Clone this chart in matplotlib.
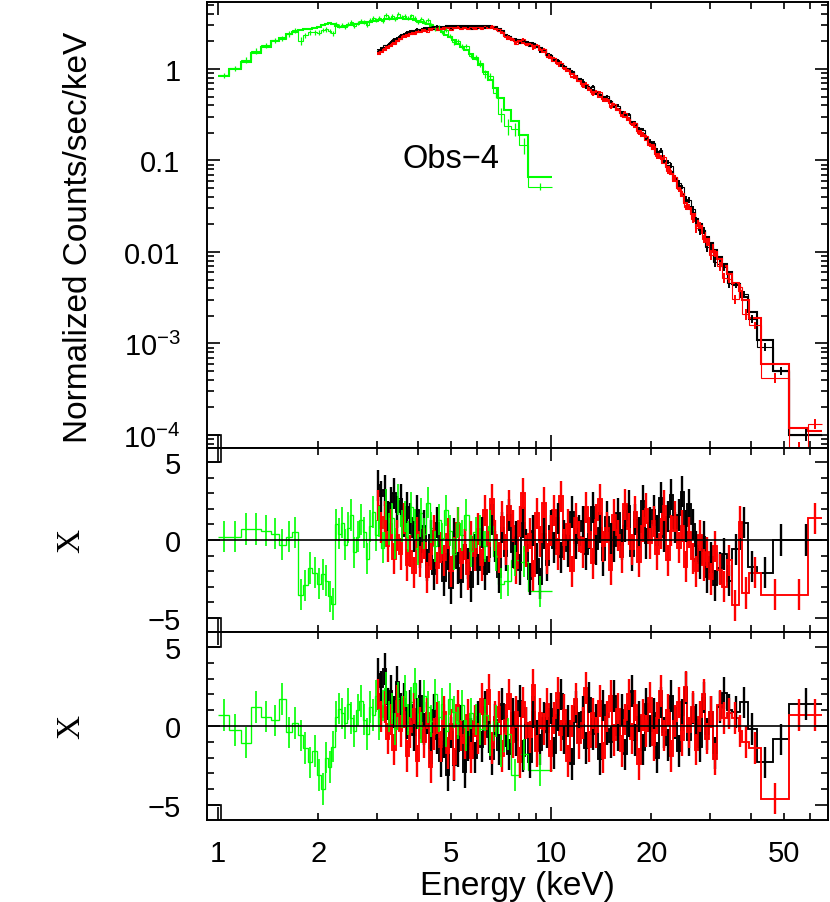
import numpy as np
import matplotlib.pyplot as plt
from matplotlib.ticker import FixedLocator, FixedFormatter, FuncFormatter, LogLocator, MultipleLocator, NullFormatter

plt.rcParams['font.family'] = ['Liberation Sans', 'DejaVu Sans']
plt.rcParams['mathtext.fontset'] = 'custom'
plt.rcParams['mathtext.rm'] = 'Liberation Sans'
plt.rcParams['mathtext.default'] = 'regular'

# ---- NuSTAR (black = FPMA, red = FPMB) : common dense bin edges, keV
fpm_edges = [3.00, 3.06, 3.13, 3.20, 3.27, 3.34, 3.42, 3.50, 3.58, 3.66,
             3.74, 3.83, 3.92, 4.01, 4.10, 4.20, 4.30, 4.40, 4.50, 4.61,
             4.72, 4.83, 4.95, 5.07, 5.19, 5.31, 5.44, 5.57, 5.70, 5.84,
             5.98, 6.12, 6.27, 6.42, 6.57, 6.73, 6.89, 7.06, 7.23, 7.40,
             7.58, 7.76, 7.95, 8.14, 8.34, 8.54, 8.75, 8.96, 9.18, 9.40,
             9.63, 9.86, 10.1, 10.35, 10.6, 10.85, 11.1, 11.4, 11.7, 12.0,
             12.3, 12.6, 12.9, 13.2, 13.5, 13.85, 14.2, 14.55, 14.9, 15.3,
             15.7, 16.1, 16.5, 16.9, 17.3, 17.7, 18.1, 18.6, 19.1, 19.6,
             20.1, 20.6, 21.1, 21.6, 22.1, 22.7, 23.3, 23.9, 24.5, 25.1,
             25.7, 26.3, 27.0, 27.7, 28.4, 29.1, 29.9, 30.7, 31.6, 32.6,
             33.7, 35.0]
black_tail_edges = [37.0, 39.0, 41.5, 46.5, 52.0, 65.0]
red_tail_edges = [36.6, 37.5, 39.4, 42.6, 52.0, 59.0, 65.0]

# model, counts/s/keV
fpm_model = [1.52, 1.60, 1.70, 1.79, 1.88, 2.00, 2.12, 2.24, 2.36, 2.46,
             2.54, 2.60, 2.65, 2.70, 2.75, 2.79, 2.82, 2.85, 2.87, 2.89,
             2.91, 2.92, 2.93, 2.94, 2.95, 2.95, 2.95, 2.95, 2.94, 2.94,
             2.93, 2.93, 2.92, 2.92, 2.91, 2.88, 2.75, 2.58, 2.38, 2.22,
             2.14, 2.09, 2.05, 2.01, 1.97, 1.93, 1.88, 1.80, 1.70, 1.60,
             1.47, 1.38, 1.29, 1.21, 1.13, 1.06, 0.99, 0.91, 0.84, 0.77,
             0.71, 0.66, 0.62, 0.59, 0.56, 0.52, 0.49, 0.47, 0.44, 0.40,
             0.37, 0.34, 0.315, 0.29, 0.265, 0.245, 0.22, 0.195, 0.175, 0.155,
             0.138, 0.123, 0.110, 0.099, 0.088, 0.074, 0.062, 0.052, 0.043, 0.036,
             0.031, 0.027, 0.023, 0.020, 0.017, 0.0145, 0.0125, 0.0105, 0.0088, 0.0074,
             0.0060]
black_tail_model = [0.0045, 0.0032, 0.0022, 0.0011, 5.0e-4, 1.0e-4]
red_tail_model = [0.0046, 0.0037, 0.0030, 0.0019, 6.0e-4, 1.2e-4, 1.1e-4]
fpmb_norm = 0.96

fpm_relerr = [0.02] * 40 + [0.03] * 20 + [0.045] * 20 + [0.065] * 10 + [0.09] * 11
black_tail_relerr = [0.07, 0.08, 0.09, 0.08, 0.10, 0.15]
red_tail_relerr = [0.08, 0.10, 0.09, 0.08, 0.085, 0.12, 0.15]

# residuals (chi), model 1 (middle panel)
black_res1 = [3.5, 2.8, 3.2, 1.5, 2.4, 3.0, 1.8, 2.6, 1.2, 2.1,
              1.4, 0.2, 1.9, -0.8, 0.9, -1.6, 0.3, -2.2, 1.1, -0.5,
              -2.6, -0.9, -3.1, 0.4, -1.8, -2.7, -0.3, -1.5, -3.0, -0.6,
              -1.9, 0.5, -2.2, -1.1, 1.3, -0.4, -2.4, 0.8, -1.0, 1.6,
              -0.8, 0.2, -1.9, 1.1, -0.3, -2.5, 0.6, -1.2, -2.8, 0.4,
              -1.6, 0.9, -0.5, 1.4, -1.1, 0.3, -0.7, 1.8, -0.2, 0.6,
              1.2, -0.9, 0.4, 2.1, -0.6, 0.8, -1.3, 1.5, 0.1, -0.4,
              1.7, -0.3, 0.9, 2.2, -1.0, 1.3, 0.5, 2.5, -0.2, 1.1,
              1.9, 0.6, 2.7, 0.2, 1.5, 2.9, 0.8, 1.6, 3.1, 0.9,
              2.3, 1.0, -0.4, -1.5, 0.2, -2.4, -1.1, -2.9, -1.8, -0.9,
              -2.6]
black_tail_res1 = [-0.6, 1.1, -1.7, -2.1, 0.0, 0.0]
red_res1 = [2.2, 0.8, 1.5, -0.4, 1.0, -1.2, 0.3, -0.9, 1.4, -1.6,
            -0.7, -2.1, 0.5, -1.4, -0.2, -2.4, -0.9, 0.6, -1.8, -0.5,
            -1.3, 0.4, -2.0, -0.8, 1.1, -1.5, -0.3, -2.2, 0.2, -1.0,
            0.7, -1.6, 1.9, -0.4, 2.6, 0.3, -1.1, 1.5, -0.6, 2.2,
            0.9, -1.8, 1.2, 3.0, -0.7, 0.4, -2.3, 1.7, -0.1, 2.4,
            -1.2, 0.6, 1.9, -0.9, 2.8, -0.3, 1.0, -2.0, 1.4, 0.2,
            -0.8, 2.1, 0.5, -1.5, 1.3, 2.6, -0.4, 0.8, -1.9, 1.6,
            0.3, -1.1, 2.3, 0.7, -0.6, 1.8, -1.4, 0.9, 2.0, -0.2,
            1.2, -0.9, 0.4, 2.2, -1.3, 0.6, 1.5, -0.5, 0.9, -1.7,
            0.5, -1.2, -2.0, 0.3, -1.6, -0.8, -2.5, -0.4, -1.9, -3.0,
            -1.3]
red_tail_res1 = [-4.2, 1.15, -3.4, -2.1, -3.5, -3.5, 1.4]

# residuals (chi), model 2 (bottom panel)
black_res2 = [3.3, 2.5, 3.6, 1.4, 2.2, 0.9, 2.8, 1.1, 1.7, 0.2,
              1.3, -0.6, 0.8, 1.9, -0.2, 0.5, -1.4, 1.0, -0.8, -2.2,
              -1.0, -3.1, -0.4, -2.5, -1.6, 0.3, -2.9, -1.2, -0.5, -2.0,
              0.6, -1.3, 1.2, -0.7, -2.1, 0.4, -1.5, 1.4, -0.3, -1.8,
              0.8, -0.9, 1.6, -1.9, 0.2, -2.3, 0.9, -0.6, -1.5, 0.5,
              -0.4, 1.1, -1.7, 0.7, 2.0, -0.8, 0.3, -2.4, 1.2, -0.1,
              0.9, -1.4, 1.8, -0.5, 0.4, -2.1, 1.3, -0.2, -1.0, 1.9,
              -0.6, 1.0, -1.8, 0.3, 2.2, -0.9, 0.6, -1.5, 1.4, -0.3,
              0.8, -2.0, 1.5, -0.4, -1.2, 1.9, 0.2, -1.6, 0.7, 2.4,
              -0.9, 1.1, 0.4, -1.3, 1.8, -0.5, 0.9, -1.7, 1.2, 2.1,
              1.0]
black_tail_res2 = [0.9, 1.5, -0.2, -2.3, -0.85, 1.4]
red_res2 = [2.0, 0.6, 1.2, -0.8, 0.4, -1.5, 1.6, -0.3, 0.9, -1.9,
            -0.4, 1.1, -2.2, 0.2, -1.0, 0.8, -2.6, -0.5, 0.5, -1.3,
            0.9, -1.7, 0.1, -2.4, 1.3, -0.6, -1.1, 0.7, -2.0, 0.3,
            -0.8, 1.7, -0.2, 2.3, -1.4, 0.6, 1.2, -1.9, 0.4, 2.0,
            -1.0, 0.9, -2.3, 1.5, 0.2, -0.7, 2.6, -1.6, 0.8, -0.2,
            1.4, -1.9, 0.5, 2.1, -0.6, 1.0, -2.2, 0.3, 1.7, -1.1,
            0.2, 2.4, -1.3, 0.8, -0.4, 1.6, -2.0, 0.6, 1.9, -0.9,
            1.1, -1.6, 0.4, 2.0, -0.8, 1.3, -2.4, 0.7, -0.3, 1.8,
            -1.2, 0.5, 2.2, -0.6, 1.0, -1.9, 0.3, 1.5, -0.9, 2.5,
            -0.4, 1.2, -1.5, 0.6, 2.0, -0.8, 0.9, -2.1, 1.3, 0.5,
            0.8]
red_tail_res2 = [0.5, -0.3, -1.0, -1.4, -4.6, 0.7, 0.7]

# ---- soft X-ray spectrum (green)
soft_edges = [1.00, 1.08, 1.17, 1.26, 1.35, 1.44, 1.52, 1.60, 1.67, 1.74,
              1.80, 1.86, 1.92, 1.98, 2.04, 2.09, 2.14, 2.19, 2.24, 2.29,
              2.34, 2.39, 2.44, 2.49, 2.54, 2.60, 2.66, 2.72, 2.78, 2.84,
              2.90, 2.96, 3.02, 3.09, 3.16, 3.23, 3.30, 3.37, 3.44, 3.52,
              3.60, 3.68, 3.76, 3.85, 3.94, 4.03, 4.12, 4.22, 4.32, 4.43,
              4.54, 4.66, 4.78, 4.91, 5.04, 5.18, 5.33, 5.49, 5.66, 5.84,
              6.03, 6.24, 6.46, 6.70, 6.95, 7.25, 7.60, 8.00, 8.55, 10.1]
soft_model = [0.84, 1.00, 1.20, 1.50, 1.75, 2.00, 2.20, 2.40, 2.55, 2.68,
              2.72, 2.76, 2.82, 2.90, 3.00, 3.12, 3.18, 3.10, 2.95, 2.88,
              2.90, 2.95, 3.00, 3.05, 3.10, 3.14, 3.18, 3.22, 3.26, 3.30,
              3.34, 3.38, 3.42, 3.46, 3.49, 3.52, 3.54, 3.56, 3.57, 3.57,
              3.56, 3.54, 3.50, 3.44, 3.37, 3.28, 3.18, 3.07, 2.95, 2.82,
              2.68, 2.53, 2.38, 2.22, 2.06, 1.90, 1.74, 1.62, 1.46, 1.30,
              1.10, 0.92, 0.76, 0.62, 0.48, 0.36, 0.27, 0.19, 0.066]
soft_relerr = [0.07] * 10 + [0.05] * 40 + [0.06] * 10 + \
              [0.08, 0.09, 0.10, 0.11, 0.12, 0.13, 0.14, 0.16, 0.065]
soft_res1 = [0.2, 0.2, 0.7, 0.7, 0.6, 0.4, -0.3, 0.2, 0.5, -3.5,
             -2.9, -1.8, -2.1, -2.8, -2.2, -2.6, -3.6, -4.1, 1.0, 0.4,
             1.1, -0.3, 0.8, 1.6, -0.8, 0.2, 1.3, 0.5, -1.2, 0.9,
             1.8, 0.3, 1.2, -0.5, 2.3, 0.7, 1.4, -0.2, 2.6, 0.9,
             1.5, 0.2, 2.1, 1.0, -0.6, 1.7, 0.4, 2.4, 0.8, -0.4,
             1.3, 0.1, 1.9, 0.6, -0.9, 1.1, 0.3, 1.6, -0.7, 0.5,
             0.6, -0.4, 0.9, -1.0, -2.8, -2.6, -1.3, -1.4, -3.3]
soft_res2 = [0.7, -0.25, -1.05, 1.2, 0.6, 0.35, 1.7, -0.4, 0.2, -0.6,
             -1.4, -2.3, -1.6, -3.1, -4.0, -2.0, -2.6, -1.3, 0.6, 1.1,
             0.8, 0.2, 1.4, 0.5, -0.3, 1.0, 1.6, 0.4, -0.5, 1.2,
             0.7, 1.9, 0.1, 1.3, 2.4, 0.6, 1.1, -0.2, 1.8, 0.9,
             2.2, 0.4, 1.5, 2.7, 0.8, -0.1, 1.9, 1.2, 0.3, 2.0,
             0.6, 1.4, -0.3, 1.7, 0.9, 0.2, 1.3, -0.6, 0.8, 0.4,
             -0.2, 0.7, -0.9, 0.3, -1.6, -0.5, -3.1, -1.8, -2.8]

# off-scale bin at the left edge (below 1 keV)
low_edges = [0.90, 1.02]
low_top = [1.0e-4]
low_res_hi = [5.0]
low_res_lo = [-5.0]


def spec(ax, edges, model, relerr, res, color, lw_data):
    edges = np.array(edges)
    model = np.array(model)
    err = model * np.array(relerr)
    data = model + np.array(res) * err
    mid = np.sqrt(edges[:-1] * edges[1:])
    ax.stairs(data, edges, color=color, lw=0.8, baseline=None)
    ax.vlines(mid, data - err, data + err, color=color, lw=lw_data)
    ax.stairs(model, edges, color=color, lw=1.5, baseline=None)


def resid(ax, edges, res, color, lw):
    edges = np.array(edges)
    res = np.array(res)
    mid = np.sqrt(edges[:-1] * edges[1:])
    ax.stairs(res, edges, color=color, lw=lw * 0.8, baseline=None)
    ax.vlines(mid, res - 1, res + 1, color=color, lw=lw)


black_edges = fpm_edges + black_tail_edges
red_edges = fpm_edges + red_tail_edges
black_model = fpm_model + black_tail_model
red_model = [m * fpmb_norm for m in fpm_model] + red_tail_model

fig = plt.figure(figsize=(8.3, 9.03), dpi=100)
left, width = 207 / 830, 621 / 830
ax1 = fig.add_axes([left, 1 - 449 / 903, width, 446 / 903])
ax2 = fig.add_axes([left, 1 - 633 / 903, width, 184 / 903])
ax3 = fig.add_axes([left, 1 - 821 / 903, width, 188 / 903])

# top: spectra
spec(ax1, soft_edges, soft_model, soft_relerr, soft_res1, '#00ff00', 0.9)
spec(ax1, black_edges, black_model, fpm_relerr + black_tail_relerr, black_res1 + black_tail_res1, 'black', 1.4)
spec(ax1, red_edges, red_model, fpm_relerr + red_tail_relerr, red_res1 + red_tail_res1, '#ff0000', 1.4)
ax1.stairs(low_top, low_edges, baseline=1e-6, color='black', lw=1.2)
ax1.set_yscale('log')
ax1.set_ylim(7.2e-5, 5.4)
ax1.yaxis.set_major_locator(FixedLocator([1e-4, 1e-3, 1e-2, 1e-1, 1]))
ax1.yaxis.set_major_formatter(FixedFormatter(['$10^{-4}$', '$10^{-3}$', '0.01', '0.1', '1']))
ax1.yaxis.set_minor_locator(LogLocator(base=10, subs=np.arange(2, 10), numticks=20))
ax1.yaxis.set_minor_formatter(NullFormatter())
ax1.set_ylabel('Normalized Counts/sec/keV', fontsize=24)
ax1.yaxis.set_label_coords((94 - 207) / 621, 0.474)
ax1.text(5.0, 0.104, 'Obs\u22124', fontsize=23.5, ha='center', va='center')

# residual panels
for ax, r_soft, r_black, r_red, lim in [
        (ax2, soft_res1, black_res1 + black_tail_res1, red_res1 + red_tail_res1, 5.9),
        (ax3, soft_res2, black_res2 + black_tail_res2, red_res2 + red_tail_res2, 5.95)]:
    resid(ax, black_edges, r_black, 'black', 1.7)
    resid(ax, red_edges, r_red, '#ff0000', 1.7)
    resid(ax, soft_edges, r_soft, '#00ff00', 1.2)
    ax.axhline(0, color='black', lw=1.2)
    ax.stairs(low_res_hi, low_edges, baseline=10, color='black', lw=1.2)
    ax.stairs(low_res_lo, low_edges, baseline=-10, color='black', lw=1.2)
    ax.set_ylim(-lim, lim)
    ax.yaxis.set_major_locator(FixedLocator([-5, 0, 5]))
    ax.yaxis.set_minor_locator(MultipleLocator(1))
    ax.set_ylabel('X', fontsize=24, family='Liberation Serif', rotation=90)
    ax.yaxis.set_label_coords((86 - 207) / 621, 0.5)

for ax in (ax1, ax2, ax3):
    ax.set_xscale('log')
    ax.set_xlim(0.927, 67.9)
    ax.xaxis.set_major_locator(FixedLocator([1, 10]))
    ax.xaxis.set_minor_locator(FixedLocator([2, 3, 4, 5, 6, 7, 8, 9, 20, 30, 40, 50, 60]))
    ax.tick_params(which='both', direction='in', top=True, right=True, width=1.2, labelsize=21)
    ax.tick_params(which='major', length=9.5)
    ax.tick_params(which='minor', length=5)
    ax.tick_params(axis='y', which='both', pad=19)
    ax.tick_params(axis='x', which='both', pad=14)
    for s in ax.spines.values():
        s.set_linewidth(1.4)
    if ax is ax3:
        ax.xaxis.set_major_formatter(FuncFormatter(lambda v, p: '%g' % v))
        ax.xaxis.set_minor_formatter(FuncFormatter(lambda v, p: '%g' % v if v in (2, 5, 20, 50) else ''))
    else:
        ax.xaxis.set_major_formatter(NullFormatter())
        ax.xaxis.set_minor_formatter(NullFormatter())

ax3.set_xlabel('Energy (keV)', fontsize=24, labelpad=2)

fig.savefig('out.png', dpi=100)
